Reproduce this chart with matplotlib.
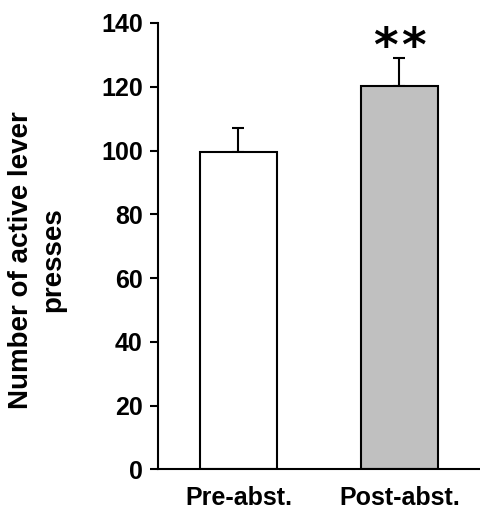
import numpy as np
import matplotlib.pyplot as plt

plt.rcParams['font.family'] = ['Liberation Sans', 'DejaVu Sans']
plt.rcParams['font.weight'] = 'bold'

groups = ['Pre-abst.', 'Post-abst.']
means = [99.4, 120.3]
sems = [7.6, 8.8]
bar_colours = ['white', '#c0c0c0']

fig = plt.figure(figsize=(4.8, 5.19), dpi=100)
ax = fig.add_axes([0.329, 0.0954, 0.671, 0.8603])

x = np.arange(len(groups))
ax.bar(x, means, width=0.478, color=bar_colours, edgecolor='black', linewidth=1.5, zorder=2)
ax.errorbar(x, means, yerr=[np.zeros(len(sems)), sems], fmt='none', ecolor='black',
            elinewidth=1.5, capsize=4.5, capthick=1.5, zorder=1)

# significance stars
for dx in (-10, 10):
    ax.annotate('*', xy=(x[1], means[1] + sems[1]), xytext=(dx, 7), textcoords='offset points',
                ha='center', va='center', fontsize=34, fontweight='bold', family='DejaVu Sans')

ax.set_xlim(-0.5, 1.5)
ax.set_ylim(0, 140)
ax.set_yticks(np.arange(0, 141, 20))
ax.set_xticks(x)
ax.set_xticklabels(groups, fontsize=18, fontweight='bold')
ax.tick_params(axis='x', length=0, pad=12)
ax.tick_params(axis='y', length=6, width=1.5, labelsize=18, pad=5)
for lab in ax.get_yticklabels():
    lab.set_fontweight('bold')

ax.spines['top'].set_visible(False)
ax.spines['right'].set_visible(False)
ax.spines['left'].set_linewidth(1.5)
ax.spines['bottom'].set_linewidth(1.5)

ax.set_ylabel('Number of active lever\npresses', fontsize=20, fontweight='bold', linespacing=1.3)
ax.yaxis.set_label_coords(-0.286, 0.469)

plt.savefig('out.png', dpi=100)
